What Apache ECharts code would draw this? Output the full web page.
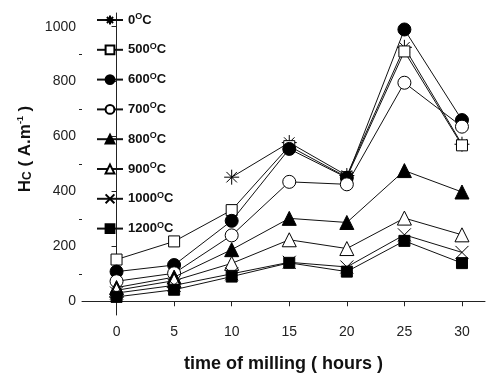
<!DOCTYPE html>
<html>
<head>
<meta charset="utf-8">
<script src="https://cdn.jsdelivr.net/npm/echarts@6/dist/echarts.min.js"></script>
<style>html,body{margin:0;padding:0;background:#fff}#c{width:486px;height:378px}</style>
</head>
<body>
<div id="c"></div>
<script>
var hours = [0, 5, 10, 15, 20, 25, 30];
var xTicks = [0, 5, 10, 15, 20, 25, 30];
var yTicks = [0, 200, 400, 600, 800, 1000];
var yMinorTicks = [100, 300, 500, 700, 900];
var seriesNames = ['0', '500', '600', '700', '800', '900', '1000', '1200'];
var hc0 = [null, null, 452, 578, 458, 925, 572];
var hc500 = [152, 218, 332, 565, 452, 910, 568];
var hc600 = [108, 132, 293, 555, 450, 990, 660];
var hc700 = [73, 102, 240, 435, 426, 796, 636];
var hc800 = [50, 88, 188, 302, 287, 476, 398];
var hc900 = [40, 75, 138, 224, 192, 303, 242];
var hc1000 = [30, 58, 100, 142, 125, 242, 178];
var hc1200 = [16, 42, 90, 140, 108, 220, 139];

var allData = [hc0, hc500, hc600, hc700, hc800, hc900, hc1000, hc1200];
var starPath = 'path://M0,10L20,10M10,0L10,20M3,3L17,17M17,3L3,17';
var crossPath = 'path://M0,0L20,20M20,0L0,20';
var styles = [
  {symbol: starPath, size: 15, fill: '#000'},
  {symbol: 'rect', size: 11, fill: '#fff'},
  {symbol: 'circle', size: 13, fill: '#000'},
  {symbol: 'circle', size: 13, fill: '#fff'},
  {symbol: 'triangle', size: 14, fill: '#000'},
  {symbol: 'triangle', size: 14, fill: '#fff'},
  {symbol: crossPath, size: 13, fill: '#000'},
  {symbol: 'rect', size: 11, fill: '#000'}
];

var series = seriesNames.map(function (n, i) {
  return {
    name: n,
    type: 'line',
    data: hours.map(function (h, j) { return [h, allData[i][j]]; }),
    symbol: styles[i].symbol,
    symbolSize: styles[i].size,
    showSymbol: true,
    connectNulls: false,
    lineStyle: {color: '#111', width: 1},
    itemStyle: {color: styles[i].fill, borderColor: '#000', borderWidth: 1, opacity: 1},
    emphasis: {disabled: true},
    z: 2 + i
  };
});

var chart = echarts.init(document.getElementById('c'));
chart.setOption({
  animation: false,
  backgroundColor: '#fff',
  grid: {left: 82, right: 1, top: 13, bottom: 59},
  legend: {
    orient: 'vertical',
    left: 91,
    top: 7,
    itemWidth: 26,
    itemHeight: 11,
    itemGap: 15.3,
    data: seriesNames,
    formatter: function (n) { return '{a|' + n + '}{s|O}{a|C}'; },
    textStyle: {
      color: '#111',
      rich: {
        a: {fontFamily: 'Liberation Sans, Arial', fontWeight: 'bold', fontSize: 13, color: '#111'},
        s: {fontFamily: 'Liberation Sans, Arial', fontWeight: 'bold', fontSize: 9, color: '#111', padding: [0, 0, 7, 0]}
      }
    }
  },
  xAxis: {
    type: 'value',
    min: -3,
    max: 32,
    name: 'time of milling ( hours )',
    nameLocation: 'middle',
    nameGap: 40,
    nameTextStyle: {fontFamily: 'Liberation Sans, Arial', fontWeight: 'bold', fontSize: 18, color: '#111'},
    axisLine: {lineStyle: {color: '#222', width: 1}},
    axisTick: {show: true, inside: false, length: 5, customValues: xTicks, lineStyle: {color: '#222'}},
    axisLabel: {customValues: xTicks, fontFamily: 'Liberation Sans, Arial', fontSize: 14, color: '#222', margin: 10},
    splitLine: {show: false}
  },
  yAxis: [{
    type: 'value',
    min: -50,
    max: 1050,
    name: 'H{sub|C} ( A.m{sup|-1} )',
    nameLocation: 'middle',
    nameGap: 47,
    nameRotate: 90,
    nameTextStyle: {
      fontFamily: 'Liberation Sans, Arial', fontWeight: 'bold', fontSize: 17, color: '#111',
      padding: [0, 0, 0, 30],
      rich: {
        sub: {fontFamily: 'Liberation Sans, Arial', fontWeight: 'bold', fontSize: 12, color: '#111', padding: [6, 0, 0, 0]},
        sup: {fontFamily: 'Liberation Sans, Arial', fontWeight: 'bold', fontSize: 9, color: '#111', padding: [0, 0, 8, 0]}
      }
    },
    axisLine: {show: true, lineStyle: {color: '#222', width: 1}},
    axisTick: {show: true, inside: false, length: 5, customValues: yTicks, lineStyle: {color: '#222'}},
    axisLabel: {customValues: yTicks, formatter: function (v) { return String(v); }, fontFamily: 'Liberation Sans, Arial', fontSize: 14, color: '#222', margin: 6},
    splitLine: {show: false}
  }, {
    type: 'value',
    position: 'left',
    min: -50,
    max: 1050,
    axisLine: {show: false},
    axisTick: {show: true, inside: false, length: 3, customValues: yMinorTicks, lineStyle: {color: '#222'}},
    axisLabel: {show: false},
    splitLine: {show: false}
  }],
  series: series
});
</script>
</body>
</html>
